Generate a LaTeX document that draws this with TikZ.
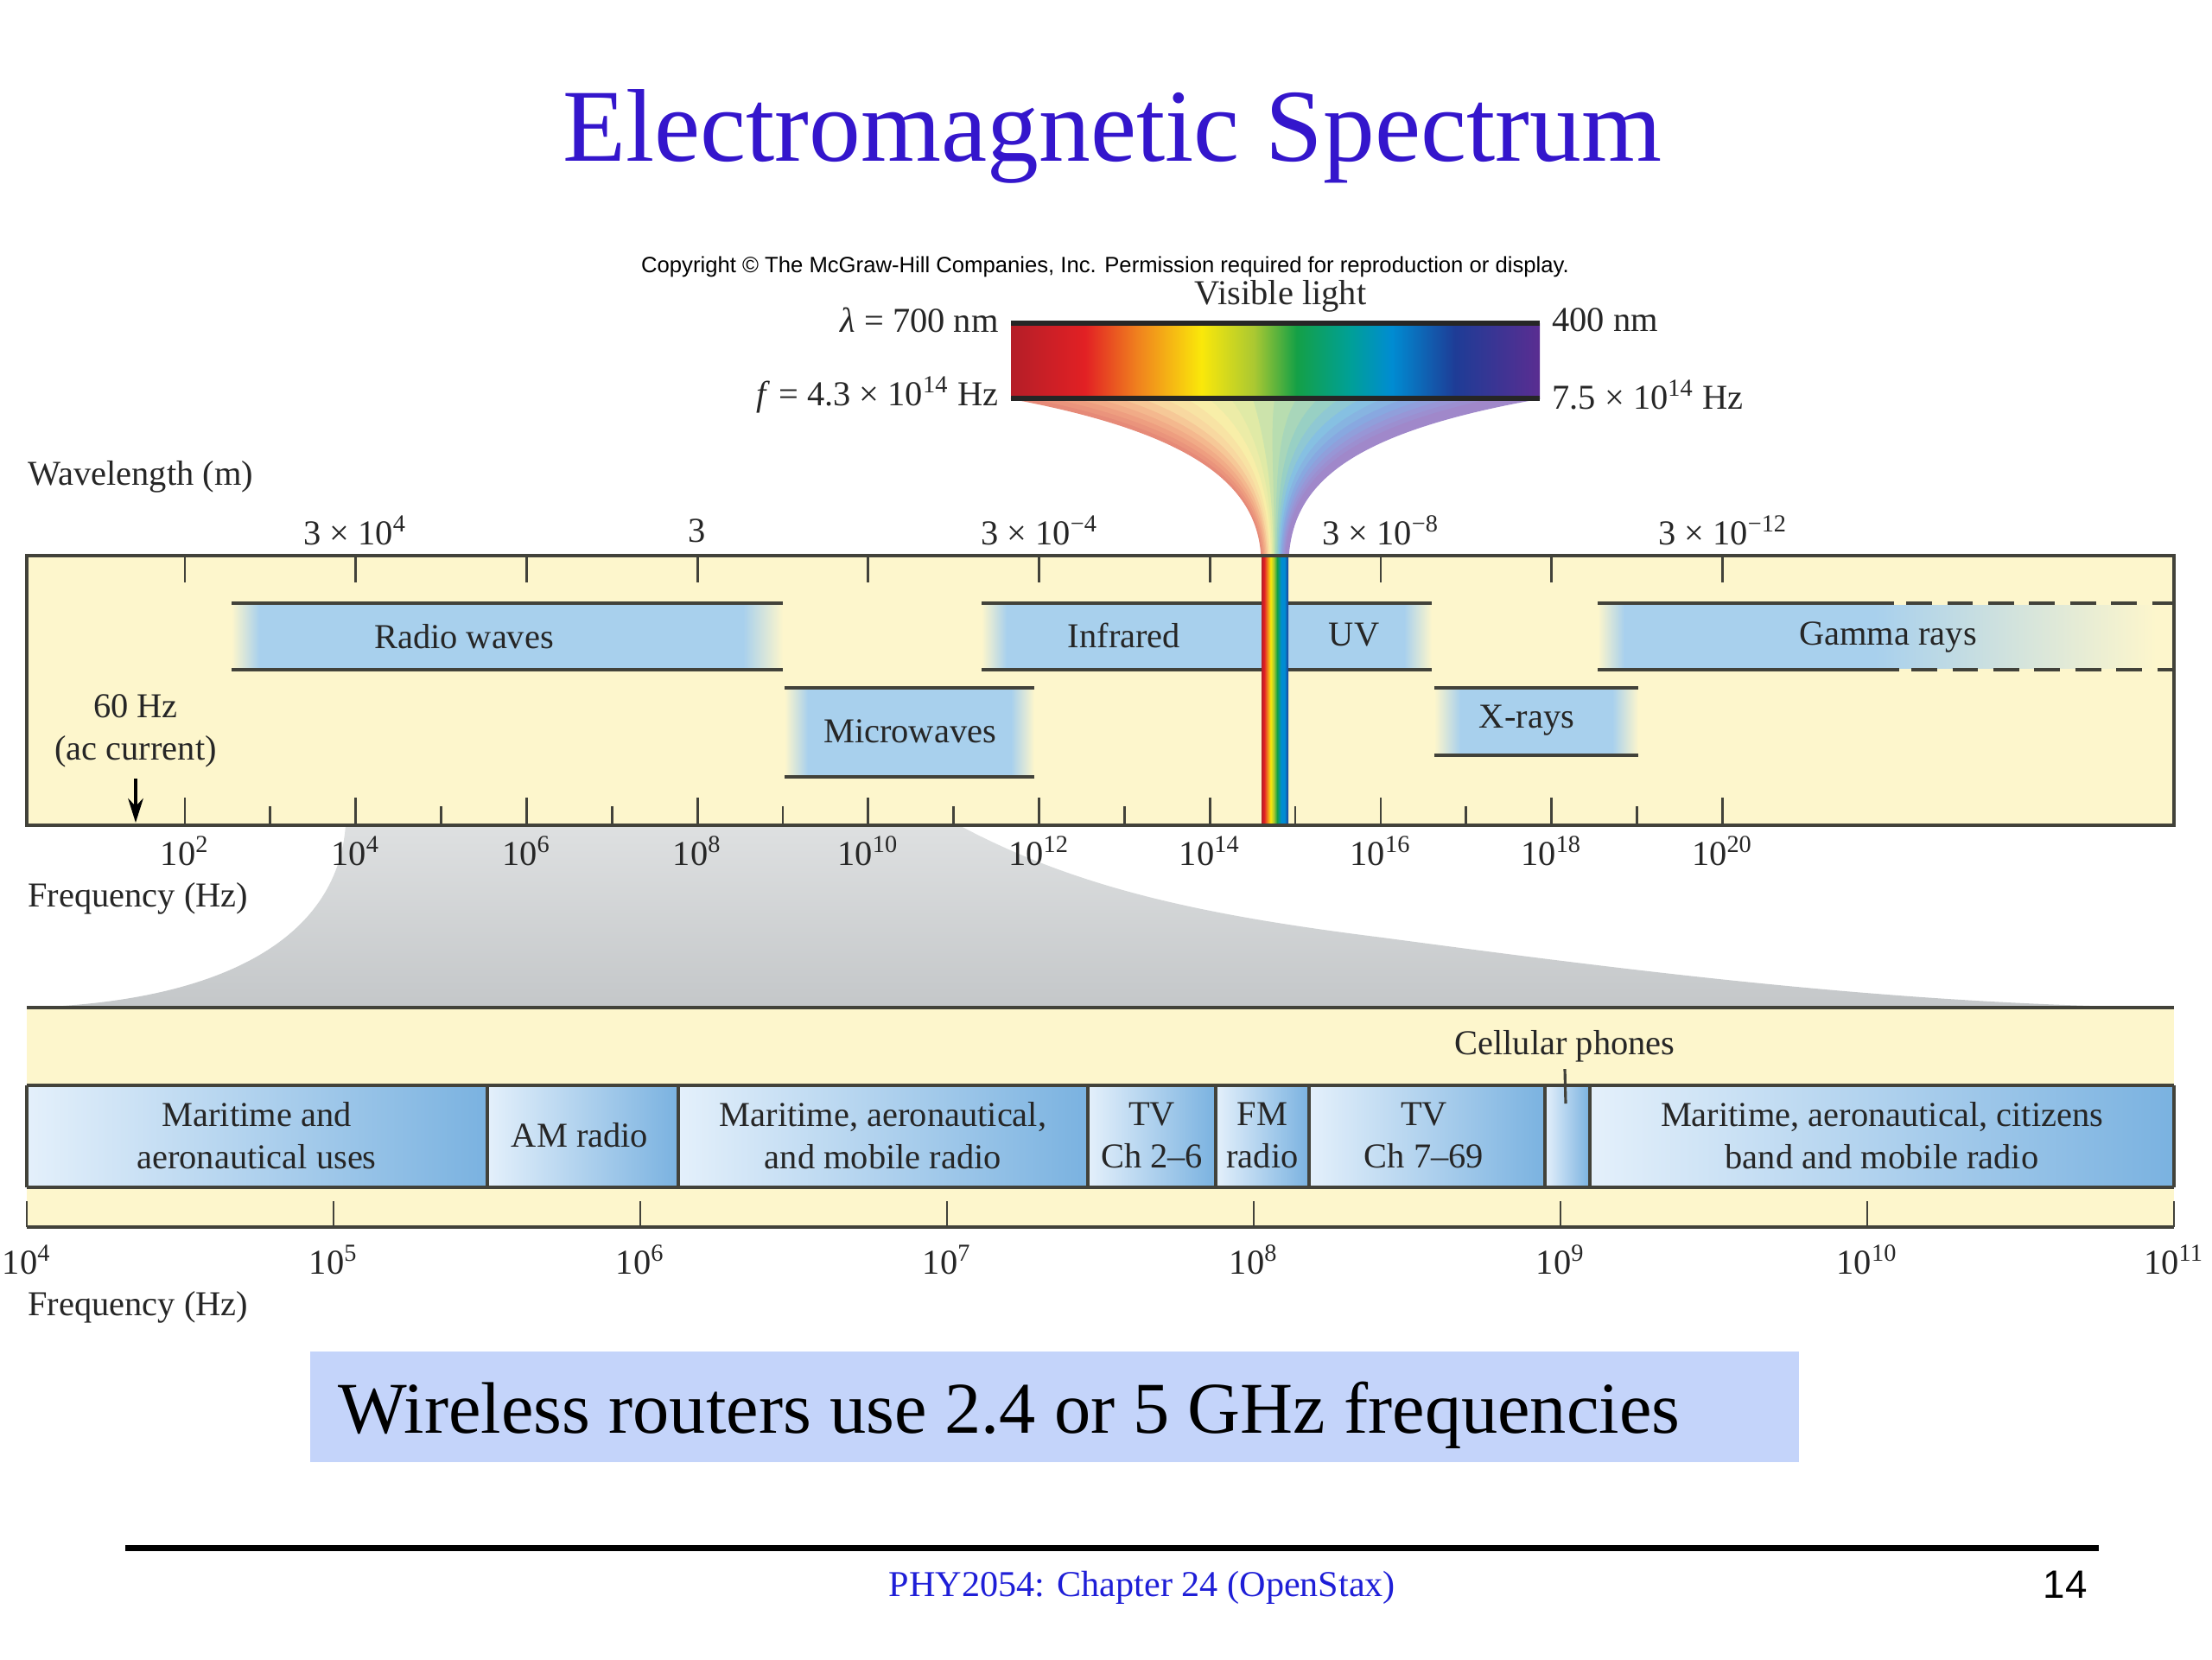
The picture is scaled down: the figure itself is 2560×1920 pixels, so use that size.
\documentclass[tikz,border=0pt]{standalone}
\usepackage{fontspec}
\setmainfont{Liberation Serif}
\newfontfamily\sansfont{Liberation Sans}
\usetikzlibrary{calc,arrows.meta}

% --- Farben ---
\definecolor{titleblue}{RGB}{52,22,204}
\definecolor{footblue}{RGB}{30,30,215}
\definecolor{bgyellow}{RGB}{253,246,204}
\definecolor{bandblue}{RGB}{168,208,237}
\definecolor{axisgray}{RGB}{66,66,58}
\definecolor{lowlight}{RGB}{228,240,251}
\definecolor{lowdark}{RGB}{122,178,224}
\definecolor{callout}{RGB}{196,212,250}
\definecolor{funtop}{RGB}{222,224,225}
\definecolor{funbot}{RGB}{196,199,201}
% --- Spektralfarben ---
\definecolor{specDR}{RGB}{180,30,40}
\definecolor{specR}{RGB}{226,32,36}
\definecolor{specO}{RGB}{240,130,30}
\definecolor{specY}{RGB}{250,232,10}
\definecolor{specYG}{RGB}{170,200,50}
\definecolor{specG}{RGB}{20,160,70}
\definecolor{specT}{RGB}{0,160,150}
\definecolor{specB}{RGB}{0,140,210}
\definecolor{specDB}{RGB}{30,60,150}
\definecolor{specV}{RGB}{90,45,145}
% --- Trichter (Pastell) ---
\definecolor{fun1}{HTML}{E68A78}
\definecolor{fun2}{HTML}{EE9E80}
\definecolor{fun3}{HTML}{F4B88E}
\definecolor{fun4}{HTML}{F8D8A0}
\definecolor{fun5}{HTML}{F8EEA8}
\definecolor{fun6}{HTML}{E0EAA6}
\definecolor{fun7}{HTML}{B8DDB0}
\definecolor{fun8}{HTML}{98D0C4}
\definecolor{fun9}{HTML}{86C0E2}
\definecolor{fun10}{HTML}{88A8E0}
\definecolor{fun11}{HTML}{9896D6}
\definecolor{fun12}{HTML}{A088CA}

\pgfdeclarehorizontalshading{visspec}{100bp}{color(0bp)=(specDR); color(25bp)=(specDR);
  color(32bp)=(specR); color(37bp)=(specO); color(43bp)=(specY); color(48bp)=(specYG);
  color(52bp)=(specG); color(57bp)=(specT); color(61bp)=(specB); color(67bp)=(specDB);
  color(75bp)=(specV); color(100bp)=(specV)}
\pgfdeclarehorizontalshading{visstrip}{100bp}{color(0bp)=(specDR); color(25bp)=(specDR);
  color(30bp)=(specR); color(36bp)=(specO); color(42bp)=(specY); color(48bp)=(specYG);
  color(54bp)=(specG); color(62bp)=(specB); color(68bp)=(specB); color(75bp)=(specDB);
  color(100bp)=(specDB)}

\begin{document}
\begin{tikzpicture}[
    x=0.01cm, y=-0.01cm,
    every node/.style={font=\fontsize{11.5}{14}\selectfont, text=black!85},
    bandline/.style={draw=axisgray, line width=1.4pt},
    boxline/.style={draw=axisgray, line width=1.3pt},
    tickline/.style={draw=axisgray, line width=0.8pt},
    divline/.style={draw=axisgray, line width=0.9pt},
    fadein/.style={left color=bgyellow, right color=bandblue},
    fadeout/.style={left color=bandblue, right color=bgyellow},
    lowband/.style={left color=lowlight, right color=lowdark}
]
\useasboundingbox (0,0) rectangle (2560,1920);
\fill[white] (0,0) rectangle (2560,1920);

% --- Kopf ---
\node[font=\fontsize{34}{40}\selectfont, text=titleblue] (title) at (1287,158) {Electromagnetic Spectrum};
\node[font=\sansfont\fontsize{7.3}{8}\selectfont, text=black] (copyright) at (1279,309)
  {Copyright © The McGraw-Hill Companies, Inc. Permission required for reproduction or display.};

% --- Trichter sichtbares Licht (Streifen zwischen linker und rechter Kurve) ---
\coordinate (L0) at (1170,461); \coordinate (L1) at (1380,500);
\coordinate (L2) at (1455,560); \coordinate (L3) at (1460,643);
\coordinate (R0) at (1782,461); \coordinate (R1) at (1560,500);
\coordinate (R2) at (1497,560); \coordinate (R3) at (1491,643);
\foreach \i in {1,...,24} {
  \pgfmathsetmacro\ta{(\i-1)/24}
  \pgfmathsetmacro\tb{\i/24}
  \pgfmathtruncatemacro\ca{(\i+1)/2}
  \pgfmathtruncatemacro\cb{min(\ca+1,12)}
  \pgfmathtruncatemacro\mix{isodd(\i) ? 100 : 50}
  \colorlet{stripe}{fun\ca!\mix!fun\cb}
  \fill[stripe, draw=stripe, line width=0.4pt]
    ($(L0)!\ta!(R0)$) .. controls ($(L1)!\ta!(R1)$) and ($(L2)!\ta!(R2)$) .. ($(L3)!\ta!(R3)$)
    -- ($(L3)!\tb!(R3)$) .. controls ($(L2)!\tb!(R2)$) and ($(L1)!\tb!(R1)$) .. ($(L0)!\tb!(R0)$) -- cycle;
}

% --- Balken sichtbares Licht ---
\shade[shading=visspec] (1170,374) rectangle (1782,461);
\draw[line width=1.5pt, black!85] (1170,374) -- (1782,374);
\draw[line width=1.5pt, black!85] (1170,461) -- (1782,461);
\node (vislabel) at (1482,343) {Visible light};
\node[anchor=east] (lam700) at (1168,370) {\textit{λ} = 700 nm};
\node[anchor=east] (f43) at (1168,457) {\textit{f} = 4.3 × 10\textsuperscript{14} Hz};
\node[anchor=west] (lam400) at (1784,370) {400 nm};
\node[anchor=west] (f75) at (1784,457) {7.5 × 10\textsuperscript{14} Hz};

% --- Grauer Trichter zur Detailskala ---
\shade[top color=funtop, bottom color=funbot] (400,955) -- (1110,955)
  .. controls (1250,1030) and (1400,1060) .. (1600,1085)
  .. controls (1900,1125) and (2200,1163) .. (2516,1166) -- (31,1166)
  .. controls (250,1160) and (390,1090) .. (400,955) -- cycle;

% --- Oberes Spektrum: Hintergrund ---
\fill[bgyellow] (31,643) rectangle (2516,955);

% --- Baender: Flaechen ---
\fill[bandblue] (300,700) rectangle (860,773);
\shade[fadein]  (268,700) rectangle (300,773);
\shade[fadeout] (860,700) rectangle (906,773);
\fill[bandblue] (935,798) rectangle (1170,897);
\shade[fadein]  (908,798) rectangle (935,897);
\shade[fadeout] (1170,798) rectangle (1197,897);
\fill[bandblue] (1165,700) rectangle (1460,773);
\shade[fadein]  (1136,700) rectangle (1165,773);
\fill[bandblue] (1491,700) rectangle (1625,773);
\shade[fadeout] (1625,700) rectangle (1657,773);
\fill[bandblue] (1690,798) rectangle (1866,872);
\shade[fadein]  (1660,798) rectangle (1690,872);
\shade[fadeout] (1866,798) rectangle (1896,872);
\fill[bandblue] (1880,700) rectangle (2170,773);
\shade[fadein]  (1849,700) rectangle (1880,773);
\shade[fadeout] (2170,700) rectangle (2495,773);

% --- Baender: Linien ---
\draw[bandline] (268,698) -- (906,698);   \draw[bandline] (268,775) -- (906,775);
\draw[bandline] (908,796) -- (1197,796);  \draw[bandline] (908,899) -- (1197,899);
\draw[bandline] (1136,698) -- (1460,698); \draw[bandline] (1136,775) -- (1460,775);
\draw[bandline] (1491,698) -- (1657,698); \draw[bandline] (1491,775) -- (1657,775);
\draw[bandline] (1660,796) -- (1896,796); \draw[bandline] (1660,874) -- (1896,874);
\draw[bandline] (1849,698) -- (2192,698); \draw[bandline] (1849,775) -- (2198,775);
\draw[bandline, dash pattern=on 8.5pt off 5pt] (2206,698) -- (2516,698);
\draw[bandline, dash pattern=on 8.5pt off 5pt] (2212,775) -- (2516,775);

% --- Regenbogenstreifen ---
\shade[shading=visstrip] (1460,643) rectangle (1491,955);

% --- Skalenstriche ---
\foreach \e in {2,4,...,20} {
  \draw[tickline] ({214+98.85*(\e-2)},643) -- ++(0,31);
  \draw[tickline] ({214+98.85*(\e-2)},955) -- ++(0,-32);
}
\foreach \e in {3,5,...,19}
  \draw[tickline] ({214+98.85*(\e-2)},955) -- ++(0,-22);

% --- Rahmen ---
\draw[boxline] (31,643) rectangle (2516,955);

% --- Beschriftung oben ---
\node[anchor=west] (wavelabel) at (20,552) {Wavelength (m)};
\node (w4)  at (411,614)  {3 × 10\textsuperscript{4}};
\node (w8)  at (807,614)  {3};
\node (w12) at (1203,614) {3 × 10\textsuperscript{−4}};
\node (w16) at (1598,614) {3 × 10\textsuperscript{−8}};
\node (w20) at (1994,614) {3 × 10\textsuperscript{−12}};
\foreach \e in {2,4,...,20}
  \node (f\e) at ({214+98.85*(\e-2)},985) {10\textsuperscript{\e}};
\node[anchor=west] (freqlabel) at (20,1040) {Frequency (Hz)};

\node (radio) at (537,737)  {Radio waves};
\node (infra) at (1301,735) {Infrared};
\node (uv)    at (1567,735) {UV};
\node (micro) at (1053,846) {Microwaves};
\node (xray)  at (1767,834) {X-rays};
\node (gamma) at (2185,737) {Gamma rays};

\node[align=center] (achz) at (157,846) {60 Hz\\(ac current)};
\coordinate (acpt) at (157,952);
\draw[-{Stealth[length=8pt,width=5pt]}, line width=1pt, black] (achz.south) -- (acpt);

% --- Unteres Spektrum ---
\fill[bgyellow] (31,1166) rectangle (2516,1420);
\shade[lowband] (31,1256)   rectangle (564,1374);
\shade[lowband] (564,1256)  rectangle (785,1374);
\shade[lowband] (785,1256)  rectangle (1259,1374);
\shade[lowband] (1259,1256) rectangle (1407,1374);
\shade[lowband] (1407,1256) rectangle (1515,1374);
\shade[lowband] (1515,1256) rectangle (1788,1374);
\shade[lowband] (1788,1256) rectangle (1840,1374);
\shade[lowband] (1840,1256) rectangle (2516,1374);
\foreach \xd in {31,564,785,1259,1407,1515,1788,1840,2516}
  \draw[divline] (\xd,1256) -- (\xd,1374);
\draw[bandline] (31,1166) -- (2516,1166);
\draw[bandline] (31,1256) -- (2516,1256);
\draw[bandline] (31,1374) -- (2516,1374);
\draw[boxline]  (31,1420) -- (2516,1420);
\foreach \k in {0,...,7}
  \draw[tickline] ({31+355*\k},1420) -- ++(0,-30);

\node[inner sep=2pt] (cell) at (1811,1211) {Cellular phones};
\coordinate (cellpt) at (1812,1277);
\draw[line width=0.9pt, axisgray] (cell.south) -- (cellpt);

\node[align=center] (mar1) at (297,1314)  {Maritime and\\aeronautical uses};
\node               (am)   at (671,1314)  {AM radio};
\node[align=center] (mar2) at (1022,1314) {Maritime, aeronautical,\\and mobile radio};
\node[align=center] (tv1)  at (1333,1314) {TV\\Ch 2–6};
\node[align=center] (fm)   at (1461,1314) {FM\\radio};
\node[align=center] (tv2)  at (1648,1314) {TV\\Ch 7–69};
\node[align=center] (mar3) at (2178,1314) {Maritime, aeronautical, citizens\\band and mobile radio};

\foreach \e [count=\k from 0] in {4,...,11}
  \node (g\e) at ({31+355*\k},1458) {10\textsuperscript{\e}};
\node[anchor=west] (freqlabel2) at (20,1513) {Frequency (Hz)};

% --- Hinweis ---
\fill[callout] (359,1564) rectangle (2082,1692);
\node[font=\fontsize{24}{28}\selectfont, text=black] (wifi) at (1168,1638)
  {Wireless routers use 2.4 or 5 GHz frequencies};

% --- Fusszeile ---
\draw[line width=2pt, black] (145,1791) -- (2429,1791);
\node[font=\fontsize{12}{14}\selectfont, text=footblue] (footer) at (1322,1837) {PHY2054: Chapter 24 (OpenStax)};
\node[font=\sansfont\fontsize{13}{15}\selectfont, text=black] (pagenum) at (2390,1834) {14};

\end{tikzpicture}
\end{document}
